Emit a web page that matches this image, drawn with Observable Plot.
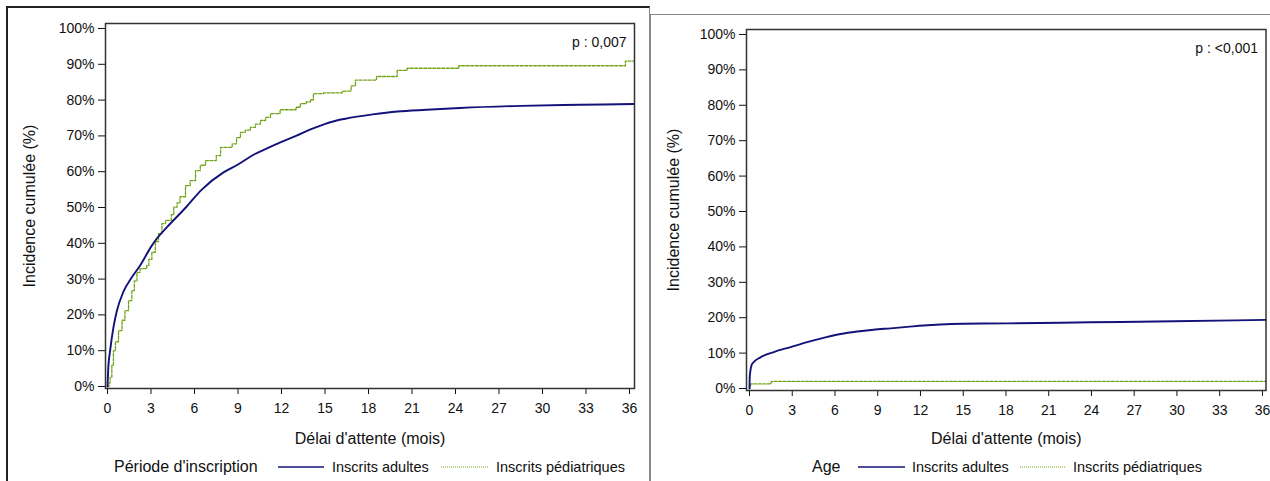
<!DOCTYPE html>
<html><head><meta charset="utf-8">
<script src="https://cdn.jsdelivr.net/npm/d3@7"></script>
<script src="https://cdn.jsdelivr.net/npm/@observablehq/plot@0.6"></script>
<style>
body{margin:0;background:#fff;font-family:"Liberation Sans",Arial,sans-serif;color:#111}
#page{position:relative;width:1270px;height:481px;overflow:hidden;background:#fff}
.abs{position:absolute}
.lg{position:absolute;font-size:14.5px;white-space:nowrap;line-height:18px;top:458px}
.lg.title{font-size:16px}
</style></head><body><div id="page"></div>
<script>
// ---------- data ----------
const seriesLabels = ["Inscrits adultes", "Inscrits pédiatriques"];
const groupTitles = ["Période d'inscription", "Age"];
const pValues = ["p : 0,007", "p : <0,001"];
const xLabel = "Délai d'attente (mois)";
const yLabel = "Incidence cumulée (%)";
const xTicks = [0, 3, 6, 9, 12, 15, 18, 21, 24, 27, 30, 33, 36];
const yTicks = [0, 10, 20, 30, 40, 50, 60, 70, 80, 90, 100];

// Left panel (Période d'inscription)
const leftAdultT = [0, 0.05, 0.18, 0.41, 0.64, 1.1, 1.68, 2.25, 3, 3.3, 4.1, 5.4, 6.5, 8, 9, 10.1, 11, 12, 13, 14, 14.7, 15.8, 16.4, 18.3, 20, 22, 24.3, 28.5, 32.6, 36.3];
const leftAdultV = [0, 5, 10, 16.5, 21, 26.5, 30.5, 33.8, 39, 40.8, 44.5, 50, 55, 59.8, 62, 64.8, 66.5, 68.3, 70, 71.8, 72.9, 74.3, 74.8, 76, 76.8, 77.3, 77.8, 78.4, 78.7, 78.9];
const leftChildT = [0, 0.1, 0.18, 0.3, 0.41, 0.55, 0.76, 1.0, 1.2, 1.45, 1.68, 1.85, 2.03, 2.25, 2.7, 2.85, 3.06, 3.3, 3.52, 3.75, 4.0, 4.4, 4.57, 4.8, 5.0, 5.38, 5.7, 6.07, 6.4, 6.76, 7.5, 7.8, 8.6, 8.9, 9.17, 9.5, 9.86, 10.2, 10.55, 10.9, 11.24, 11.9, 13.0, 13.3, 13.7, 14.0, 14.2, 14.9, 16.19, 16.8, 17.1, 18.55, 19.98, 20.67, 24.23, 35.72, 36.3];
const leftChildV = [0, 1, 2.6, 6, 10, 12.5, 15.6, 18.5, 21.2, 24, 26.8, 29.5, 31.9, 32.9, 33.8, 35.5, 37.5, 40.5, 42.7, 45.5, 46.4, 48, 50.1, 51.3, 53, 56.1, 57.5, 60.3, 61.8, 63.1, 64.5, 66.8, 67.8, 69.5, 71, 71.6, 72.4, 73.3, 74.3, 75.2, 76.2, 77.3, 78, 79, 79.5, 80.1, 81.8, 82, 82.5, 84, 85.6, 86.6, 88.3, 88.9, 89.6, 90.9, 90.9];

// Right panel (Age)
const rightAdultT = [0, 0.01, 0.05, 0.19, 0.77, 1.7, 2.88, 4.05, 5.2, 6.4, 7.56, 8.7, 9.9, 11.07, 12.2, 13.4, 15, 18.1, 23.9, 29.8, 36.25];
const rightAdultV = [0, 2.5, 4.6, 7, 8.8, 10.3, 11.7, 13.1, 14.3, 15.4, 16.1, 16.6, 17, 17.4, 17.8, 18.1, 18.3, 18.4, 18.7, 19.0, 19.4];
const rightChildT = [0, 0.03, 0.08, 1.43, 1.55, 36.25];
const rightChildV = [0, 0.7, 1.3, 1.6, 2.0, 2.0];

// ---------- drawing ----------
const navy = "#12127a";
const green = "#72a418";
const font = '"Liberation Sans", Arial, sans-serif';
const zip = (T, V) => T.map((t, i) => ({t, v: V[i]}));
const page = document.getElementById("page");

function panel({left, width, height, mLeft, mTop, mRight, mBottom, xDomain, yDomain, adult, child, p, yLabelDx, xLabelDy}) {
  const chart = Plot.plot({
    width, height,
    marginLeft: mLeft, marginTop: mTop, marginRight: mRight, marginBottom: mBottom,
    style: {fontFamily: font, fontSize: "14px", color: "#111", background: "transparent", overflow: "visible"},
    x: {domain: xDomain},
    y: {domain: yDomain},
    marks: [
      Plot.axisX({ticks: xTicks, tickSize: 6, tickPadding: 9, tickFormat: d => String(d), label: null, fontSize: 14}),
      Plot.axisY({ticks: yTicks, tickSize: 7, tickPadding: 4, tickFormat: d => d + "%", label: null, fontSize: 14}),
      Plot.text([xLabel], {frameAnchor: "bottom", dy: xLabelDy, text: d => d, fontSize: 16, fill: "#111", lineAnchor: "middle", textAnchor: "middle"}),
      Plot.text([yLabel], {frameAnchor: "left", dx: yLabelDx, rotate: -90, text: d => d, fontSize: 16, fill: "#111", lineAnchor: "middle", textAnchor: "middle"}),
      Plot.line(child, {x: "t", y: "v", curve: "step-after", stroke: green, strokeWidth: 1.3, strokeDasharray: "3,1.5"}),
      Plot.line(adult, {x: "t", y: "v", curve: "monotone-x", stroke: navy, strokeWidth: 1.9}),
      Plot.frame({stroke: "#333", strokeWidth: 1.5}),
      Plot.text([p], {frameAnchor: "top-right", dx: -8, dy: 14, text: d => d, fontSize: 14, fill: "#111", textAnchor: "end"})
    ]
  });
  chart.style.position = "absolute";
  chart.style.left = left + "px";
  chart.style.top = "0px";
  page.appendChild(chart);
}

function box(css) {
  const d = document.createElement("div");
  d.className = "abs";
  Object.assign(d.style, css);
  page.appendChild(d);
}
// panel borders
box({left: "6px", top: "6px", width: "641px", height: "490px", borderLeft: "2px solid #222", borderTop: "2px solid #222", borderRight: "1.5px solid #888"});
box({left: "650px", top: "14px", width: "640px", height: "490px", borderLeft: "1.5px solid #888", borderTop: "1.5px solid #888"});

panel({left: 0, width: 648, height: 455, mLeft: 105, mTop: 23, mRight: 14, mBottom: 67,
  xDomain: [-0.138, 36.345], yDomain: [-0.56, 101.4],
  adult: zip(leftAdultT, leftAdultV), child: zip(leftChildT, leftChildV), p: pValues[0],
  yLabelDx: -75.5, xLabelDy: 50});
panel({left: 652, width: 618, height: 455, mLeft: 94, mTop: 29, mRight: 4.5, mBottom: 65,
  xDomain: [-0.21, 36.25], yDomain: [-0.56, 101.4],
  adult: zip(rightAdultT, rightAdultV), child: zip(rightChildT, rightChildV), p: pValues[1],
  yLabelDx: -72.5, xLabelDy: 48});

// legends
function legend(x0, title, lineA, textA, lineB, textB) {
  const t = document.createElement("div"); t.className = "lg title"; t.style.left = x0 + "px"; t.textContent = title; page.appendChild(t);
  const mk = (x1, x2, color, dash, w) => {
    const s = document.createElementNS("http://www.w3.org/2000/svg", "svg");
    s.setAttribute("width", x2 - x1); s.setAttribute("height", 4);
    s.style.position = "absolute"; s.style.left = x1 + "px"; s.style.top = "465px";
    const l = document.createElementNS("http://www.w3.org/2000/svg", "line");
    l.setAttribute("x1", 0); l.setAttribute("x2", x2 - x1); l.setAttribute("y1", 2); l.setAttribute("y2", 2);
    l.setAttribute("stroke", color); l.setAttribute("stroke-width", w);
    if (dash) l.setAttribute("stroke-dasharray", dash);
    s.appendChild(l); page.appendChild(s);
  };
  mk(lineA[0], lineA[1], navy, null, 1.5);
  const a = document.createElement("div"); a.className = "lg"; a.style.left = textA + "px"; a.textContent = seriesLabels[0]; page.appendChild(a);
  mk(lineB[0], lineB[1], green, "1,1", 1.2);
  const b = document.createElement("div"); b.className = "lg"; b.style.left = textB + "px"; b.textContent = seriesLabels[1]; page.appendChild(b);
}
legend(114, groupTitles[0], [278, 324], 332, [441, 488], 496);
legend(812, groupTitles[1], [858, 905], 912, [1020, 1066], 1073);
</script></body></html>
